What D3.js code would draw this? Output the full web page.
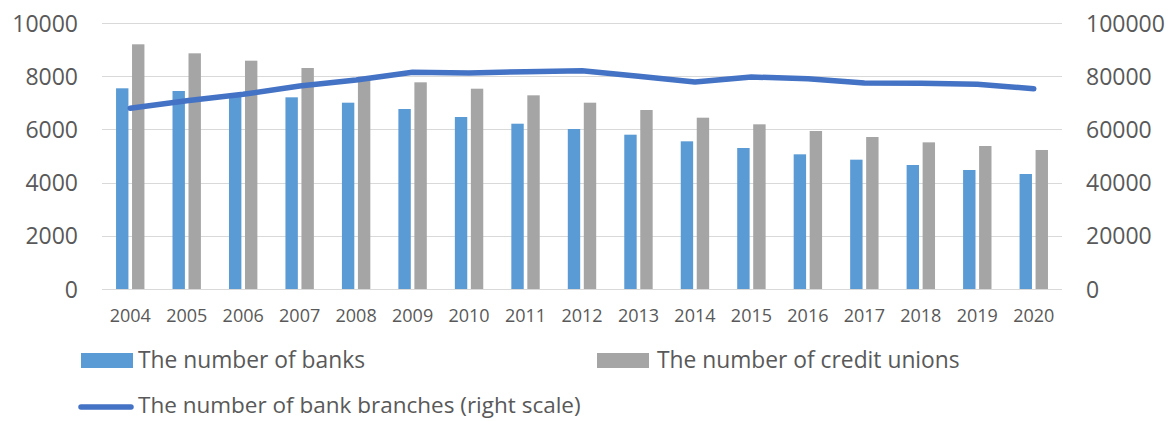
<!DOCTYPE html>
<html>
<head>
<meta charset="utf-8">
<script src="https://cdn.jsdelivr.net/npm/d3@7"></script>
<style>
  body { margin: 0; background: #fff; }
  svg text { font-family: "Open Sans", "Liberation Sans", sans-serif; fill: #595959; }
</style>
</head>
<body>
<svg id="chart" width="1175" height="421"></svg>
<script>
const years = ["2004","2005","2006","2007","2008","2009","2010","2011","2012","2013","2014","2015","2016","2017","2018","2019","2020"];
const banks = [7545, 7444, 7320, 7206, 7004, 6767, 6466, 6214, 6015, 5801, 5552, 5301, 5063, 4862, 4662, 4474, 4323];
const creditUnions = [9199, 8860, 8583, 8308, 7981, 7770, 7530, 7281, 7004, 6729, 6440, 6191, 5940, 5714, 5513, 5376, 5226];
const branches = [67930, 70800, 73200, 76300, 78570, 81460, 81200, 81700, 82070, 79960, 77820, 79700, 79060, 77440, 77320, 76940, 75300];
const leftTicks = [0, 2000, 4000, 6000, 8000, 10000];
const rightTicks = [0, 20000, 40000, 60000, 80000, 100000];
const seriesNames = ["The number of banks", "The number of credit unions", "The number of bank branches (right scale)"];
const colors = { banks: "#5B9BD5", cu: "#A5A5A5", line: "#4472C4" };

const svg = d3.select("#chart");
const x = d3.scaleBand().domain(years).range([102, 1062]);
const sub = d3.scaleBand().domain(["banks", "cu"]).range([-14.2, 14.2]).paddingInner(0.225);
const yL = d3.scaleLinear().domain([0, 10000]).range([289, 23]);
const yR = d3.scaleLinear().domain([0, 100000]).range([289, 23]);

// gridlines
svg.append("g").selectAll("line").data(leftTicks).join("line")
  .attr("x1", 102).attr("x2", 1062)
  .attr("y1", d => Math.round(yL(d)) + 0.5).attr("y2", d => Math.round(yL(d)) + 0.5)
  .attr("stroke", "#D9D9D9").attr("stroke-width", 1.2);

// left axis
const axL = svg.append("g").attr("transform", "translate(78,0)")
  .call(d3.axisLeft(yL).tickValues(leftTicks).tickSize(0).tickPadding(0).tickFormat(d3.format("d")));
axL.select(".domain").remove();
axL.selectAll("text").attr("font-size", 23).attr("fill", "#595959").attr("dy", "0.35em");

// right axis
const axR = svg.append("g").attr("transform", "translate(1086,0)")
  .call(d3.axisRight(yR).tickValues(rightTicks).tickSize(0).tickPadding(0).tickFormat(d3.format("d")));
axR.select(".domain").remove();
axR.selectAll("text").attr("font-size", 23).attr("fill", "#595959").attr("dy", "0.35em");

// bottom axis
const axB = svg.append("g").attr("transform", "translate(0,289)")
  .call(d3.axisBottom(x).tickSize(0).tickPadding(20));
axB.select(".domain").remove();
axB.selectAll("text").attr("font-size", 18).attr("fill", "#595959");

// bars
const g = svg.append("g");
g.selectAll("rect.b").data(years).join("rect").attr("class", "b")
  .attr("x", d => x(d) + x.bandwidth() / 2 + sub("banks"))
  .attr("width", sub.bandwidth())
  .attr("y", (d, i) => yL(banks[i]))
  .attr("height", (d, i) => yL(0) - yL(banks[i]))
  .attr("fill", colors.banks);
g.selectAll("rect.c").data(years).join("rect").attr("class", "c")
  .attr("x", d => x(d) + x.bandwidth() / 2 + sub("cu"))
  .attr("width", sub.bandwidth())
  .attr("y", (d, i) => yL(creditUnions[i]))
  .attr("height", (d, i) => yL(0) - yL(creditUnions[i]))
  .attr("fill", colors.cu);

// line
const line = d3.line()
  .x((d, i) => x(years[i]) + x.bandwidth() / 2)
  .y(d => yR(d));
svg.append("path").datum(branches)
  .attr("d", line).attr("fill", "none")
  .attr("stroke", colors.line).attr("stroke-width", 5.5)
  .attr("stroke-linecap", "round").attr("stroke-linejoin", "round");

// legend
const leg = svg.append("g");
leg.append("rect").attr("x", 81).attr("y", 353).attr("width", 52).attr("height", 15).attr("fill", colors.banks);
leg.append("text").attr("x", 138).attr("y", 360).attr("dy", "0.35em").attr("font-size", 22.8).text(seriesNames[0]);
leg.append("rect").attr("x", 597).attr("y", 353).attr("width", 52).attr("height", 15).attr("fill", colors.cu);
leg.append("text").attr("x", 657).attr("y", 360).attr("dy", "0.35em").attr("font-size", 22.8).text(seriesNames[1]);
leg.append("line").attr("x1", 81).attr("x2", 131).attr("y1", 407).attr("y2", 407)
  .attr("stroke", colors.line).attr("stroke-width", 5.5).attr("stroke-linecap", "round");
leg.append("text").attr("x", 138).attr("y", 405.5).attr("dy", "0.35em").attr("font-size", 22.5).text(seriesNames[2]);
</script>
</body>
</html>
